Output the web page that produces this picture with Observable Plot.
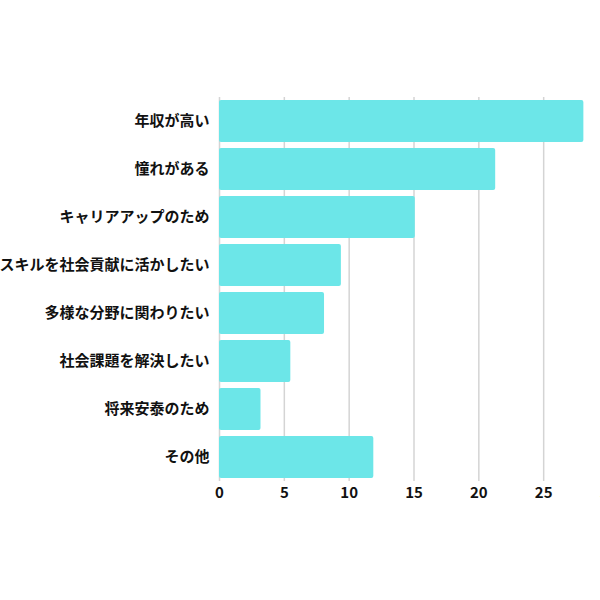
<!DOCTYPE html>
<html><head><meta charset="utf-8">
<script src="https://cdn.jsdelivr.net/npm/d3@7"></script>
<script src="https://cdn.jsdelivr.net/npm/@observablehq/plot@0.6"></script>
<style>
html,body{margin:0;padding:0;background:#fff;overflow:hidden;}
svg{overflow:hidden;}
</style>
</head><body>
<div id="chart"></div>
<script>
const categories = ["年収が高い","憧れがある","キャリアアップのため","スキルを社会貢献に活かしたい","多様な分野に関わりたい","社会課題を解決したい","将来安泰のため","その他"];
const values = [28.1, 21.3, 15.1, 9.4, 8.1, 5.5, 3.2, 11.9];
const xTicks = [0, 5, 10, 15, 20, 25, 30];

const data = categories.map((c, i) => ({category: c, value: values[i]}));

const chart = Plot.plot({
  width: 600,
  height: 600,
  marginTop: 97,
  marginBottom: 119,
  marginLeft: 219,
  marginRight: 0,
  style: {fontFamily: "'Noto Sans CJK JP', 'Noto Sans', sans-serif", background: "#fff", overflow: "hidden"},
  x: {domain: [0, 30], range: [219, 608], ticks: xTicks},
  y: {domain: categories, padding: 0.125, paddingOuter: 0.0625, label: null},
  marks: [
    Plot.gridX(xTicks, {stroke: "#d4d4d4", strokeOpacity: 1, strokeWidth: 1.5}),
    Plot.barX(data, {x: "value", y: "category", fill: "#6ce6e8", rx: 2}),
    Plot.axisX(xTicks, {tickSize: 0, tickPadding: 6, fontSize: 15, fontWeight: "bold", fill: "#111", label: null}),
    Plot.axisY({tickSize: 0, tickPadding: 10, fontSize: 15, fontWeight: "bold", fill: "#111", label: null})
  ]
});
document.getElementById("chart").appendChild(chart);
</script>
</body></html>
